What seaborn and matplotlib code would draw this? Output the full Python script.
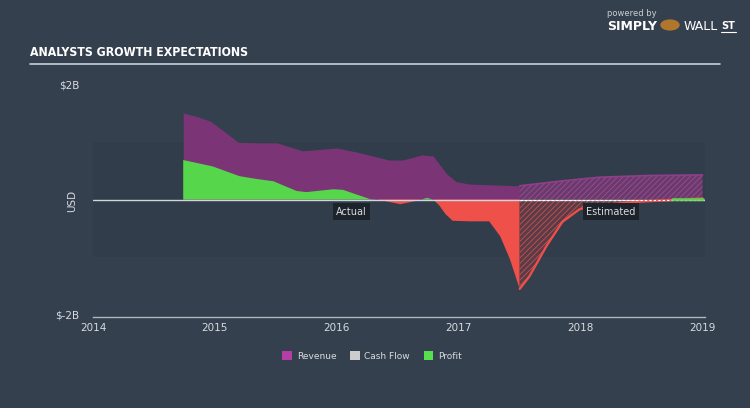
import numpy as np
import pandas as pd
import matplotlib
matplotlib.use("Agg")
import matplotlib.pyplot as plt
from matplotlib.patches import Patch
import seaborn as sns

# ---------------- data (USD billions) ----------------
rev_x_act = [2014.74, 2014.85, 2014.96, 2015.07, 2015.19, 2015.35, 2015.51, 2015.72,
             2016.00, 2016.16, 2016.43, 2016.54, 2016.70, 2016.79, 2016.90, 2016.98,
             2017.09, 2017.50]
rev_act = [1.51, 1.45, 1.37, 1.20, 1.00, 0.99, 0.99, 0.85,
           0.90, 0.83, 0.69, 0.69, 0.78, 0.76, 0.45, 0.31,
           0.27, 0.24]
rev_x_est = [2017.50, 2017.82, 2018.15, 2018.56, 2019.00]
rev_est = [0.24, 0.32, 0.39, 0.42, 0.43]

prof_x_act = [2014.74, 2014.98, 2015.20, 2015.34, 2015.48, 2015.67, 2015.75, 2015.97,
              2016.05, 2016.27, 2016.33, 2016.52, 2016.66, 2016.74, 2016.79, 2016.84,
              2016.89, 2016.95, 2017.09, 2017.25, 2017.34, 2017.42, 2017.50]
prof_act = [0.69, 0.58, 0.41, 0.36, 0.32, 0.15, 0.13, 0.18,
            0.17, 0.01, 0.00, -0.08, -0.02, 0.03, 0.00, -0.10,
            -0.25, -0.37, -0.38, -0.38, -0.64, -1.04, -1.56]
prof_x_est = [2017.50, 2017.58, 2017.72, 2017.85, 2017.99, 2018.10, 2018.46, 2018.73, 2019.00]
prof_est = [-1.56, -1.34, -0.81, -0.39, -0.17, -0.11, -0.04, -0.01, 0.02]

year_ticks = [2014, 2015, 2016, 2017, 2018, 2019]
legend_labels = ["Revenue", "Cash Flow", "Profit"]

# ---------------- style ----------------
BG = "#35404f"
BAND = "#323d4b"
PURPLE = "#7b3577"
GREEN = "#55d64b"
RED = "#f0504a"
TXT = "#d7dbe0"

sns.set_style("dark", {"axes.facecolor": BG, "figure.facecolor": BG})
plt.rcParams["font.family"] = ["DejaVu Sans"]
plt.rcParams["hatch.linewidth"] = 0.6

fig = plt.figure(figsize=(7.5, 4.08), dpi=100)
fig.patch.set_facecolor(BG)
ax = fig.add_axes([93 / 750, 1 - 317 / 408, (705 - 93) / 750, (317 - 85) / 408])
ax.set_facecolor(BG)
ax.set_xlim(2014, 2019.02)
ax.set_ylim(-2.05, 2.0)

# subtle darker band between -1B and 1B
ax.axhspan(-1, 1, color=BAND, zorder=0, lw=0)

# actual revenue
ax.fill_between(rev_x_act, 0, rev_act, color=PURPLE, lw=0, zorder=2)
# actual profit
px = np.array(prof_x_act); py = np.array(prof_act)
ax.fill_between(px, 0, py, where=py >= 0, interpolate=True, color=GREEN, lw=0, zorder=3)
ax.fill_between(px, 0, py, where=py <= 0, interpolate=True, color=RED, lw=0, zorder=3)

# estimated revenue
ax.fill_between(rev_x_est, 0, rev_est, facecolor="#6b3a6c", edgecolor="#9a4d95",
                hatch="//////", lw=0, zorder=2)
sns.lineplot(x=rev_x_est, y=rev_est, ax=ax, color="#8e3f8a", lw=1.2, zorder=4)

# estimated profit
ex = np.array(prof_x_est); ey = np.array(prof_est)
ax.fill_between(ex, 0, ey, where=ey <= 0, interpolate=True, facecolor="#5a3c48",
                edgecolor="#c9504d", hatch="//////", lw=0, zorder=3)
sns.lineplot(x=prof_x_est, y=prof_est, ax=ax, color=RED, lw=1.6, zorder=5)

# zero line
ax.axhline(0, color="#cfd5db", lw=1.0, zorder=4)
ax.plot([2017.5, 2019.0], [0, 0], ls=(0, (2, 2)), color="#ffffff", lw=0.8, zorder=6)
ax.plot([2018.75, 2019.0], [0.015, 0.015], color=GREEN, lw=1.8, zorder=6)

# actual / estimated labels
for xx, lab in [(2016.12, "Actual"), (2018.25, "Estimated")]:
    ax.text(xx, -0.21, lab, ha="center", va="center", fontsize=7, color=TXT,
            bbox=dict(facecolor="#1d232b", edgecolor="none", pad=2.5), zorder=8)

# axes styling
for s in ["top", "right", "left"]:
    ax.spines[s].set_visible(False)
ax.spines["bottom"].set_color("#aeb6bf")
ax.spines["bottom"].set_linewidth(1)
ax.set_xticks(year_ticks)
ax.set_xticklabels([str(y) for y in year_ticks])
ax.tick_params(axis="x", direction="in", length=5, color="#aeb6bf", labelcolor=TXT,
               labelsize=7.5, pad=4)
ax.set_yticks([2, -2])
ax.set_yticklabels(["$2B", "$-2B"])
ax.tick_params(axis="y", length=0, labelcolor=TXT, labelsize=7.5, pad=10)
ax.set_ylabel("USD", color=TXT, fontsize=7.5)
ax.yaxis.set_label_coords((77 - 93) / 612, 0.5)
ax.grid(False)

# title and rule
fig.text(30 / 750, 1 - 53 / 408, "ANALYSTS GROWTH EXPECTATIONS", fontsize=8.8,
         fontweight="bold", fontstretch="condensed", color="#ffffff", va="center", ha="left",
         family=["DejaVu Sans"])
fig.add_artist(plt.Line2D([30 / 750, 720 / 750], [1 - 64 / 408] * 2, color="#c8d0d8", lw=1.2))

# logo text
fig.text(607 / 750, 1 - 14 / 408, "powered by", fontsize=6, color="#c9ced4", va="center", ha="left")
fig.text(607 / 750, 1 - 27 / 408, "SIMPLY", fontsize=9, fontweight="bold", color="#ffffff",
         va="center", ha="left")
fig.text(684 / 750, 1 - 27 / 408, "WALL", fontsize=9, color="#ffffff", va="center", ha="left")
fig.text(721 / 750, 1 - 26 / 408, "ST", fontsize=7, fontweight="bold", color="#ffffff",
         va="center", ha="left")
fig.add_artist(plt.Line2D([721 / 750, 736 / 750], [1 - 32 / 408] * 2, color="#ffffff", lw=0.8))
fig.add_artist(plt.Circle((670 / 750, 1 - 25 / 408), 0.012, color="#b0762c",
                          transform=fig.transFigure))

# legend
handles = [Patch(facecolor="#b43ea6", edgecolor="none"),
           Patch(facecolor="#cccccc", edgecolor="none"),
           Patch(facecolor="#55e04f", edgecolor="none")]
leg = fig.legend(handles, legend_labels, loc="center", bbox_to_anchor=(0.496, 1 - 356 / 408),
                 ncol=3, frameon=False, fontsize=6.5, handlelength=1.1, handleheight=1.1,
                 columnspacing=1.5, handletextpad=0.5)
for t in leg.get_texts():
    t.set_color(TXT)

fig.savefig("out.png", dpi=100, facecolor=BG)
